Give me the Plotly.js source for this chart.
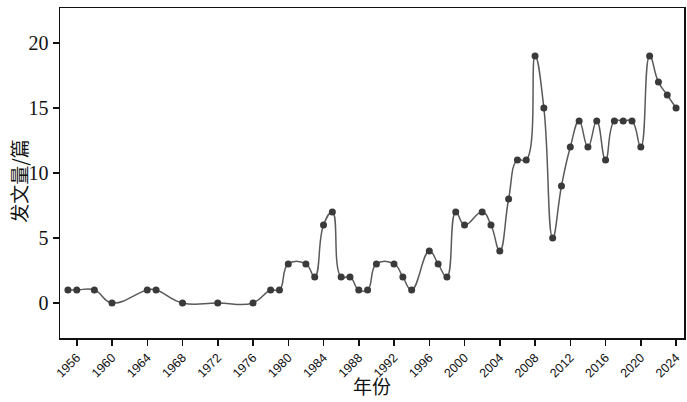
<!DOCTYPE html>
<html>
<head>
<meta charset="utf-8">
<script src="https://cdn.plot.ly/plotly-3.0.1.min.js"></script>
<style>html,body{margin:0;padding:0;background:#fff;}#chart{width:687px;height:402px;}</style>
</head>
<body>
<div id="chart"></div>
<script>
const years = [1955,1956,1958,1960,1964,1965,1968,1972,1976,1978,1979,1980,1982,1983,1984,1985,1986,1987,1988,1989,1990,1992,1993,1994,1996,1997,1998,1999,2000,2002,2003,2004,2005,2006,2007,2008,2009,2010,2011,2012,2013,2014,2015,2016,2017,2018,2019,2020,2021,2022,2023,2024];
const counts = [1,1,1,0,1,1,0,0,0,1,1,3,3,2,6,7,2,2,1,1,3,3,2,1,4,3,2,7,6,7,6,4,8,11,11,19,15,5,9,12,14,12,14,11,14,14,14,12,19,17,16,15];
const xTicks = [1956,1960,1964,1968,1972,1976,1980,1984,1988,1992,1996,2000,2004,2008,2012,2016,2020,2024];
const yTicks = [0,5,10,15,20];
const xTitle = '年份';
const yTitle = '发文量/篇';

const titleFont = {family: 'Noto Sans CJK SC', size: 19, color: '#111'};

Plotly.newPlot('chart', [{
  x: years, y: counts, type: 'scatter', mode: 'lines+markers',
  line: {shape: 'spline', smoothing: 1.3, color: '#5a5a5a', width: 1.5},
  marker: {color: '#3a3a3a', size: 7},
  hoverinfo: 'skip'
}], {
  width: 687, height: 402,
  margin: {l: 60, r: 3, t: 8, b: 64},
  paper_bgcolor: '#fff', plot_bgcolor: '#fff',
  showlegend: false,
  xaxis: {
    range: [1954.1, 2024.9], tickvals: xTicks, ticktext: xTicks.map(String),
    tickangle: -45, ticks: 'outside', ticklen: 6, tickwidth: 1.5, tickcolor: '#111',
    showline: true, linecolor: '#111', linewidth: 1.5, mirror: true, showgrid: false, zeroline: false,
    tickfont: {family: 'Liberation Sans, Arial, sans-serif', size: 12.5, color: '#111'}
  },
  yaxis: {
    range: [-2.7, 22.7], tickvals: yTicks, ticks: 'outside', ticklen: 6, tickwidth: 1.5, tickcolor: '#111',
    showline: true, linecolor: '#111', linewidth: 1.5, mirror: true, showgrid: false, zeroline: false,
    tickfont: {family: 'Liberation Serif, Times New Roman, serif', size: 20, color: '#111'}
  },
  annotations: [
    {text: xTitle, xref: 'paper', yref: 'paper', x: 0.5, y: -0.145, showarrow: false,
     xanchor: 'center', yanchor: 'middle', font: titleFont},
    {text: yTitle, xref: 'paper', yref: 'paper', x: -0.066, y: 0.476, showarrow: false,
     textangle: -90, xanchor: 'center', yanchor: 'middle', font: titleFont}
  ]
}, {displayModeBar: false, staticPlot: true});
</script>
</body>
</html>
